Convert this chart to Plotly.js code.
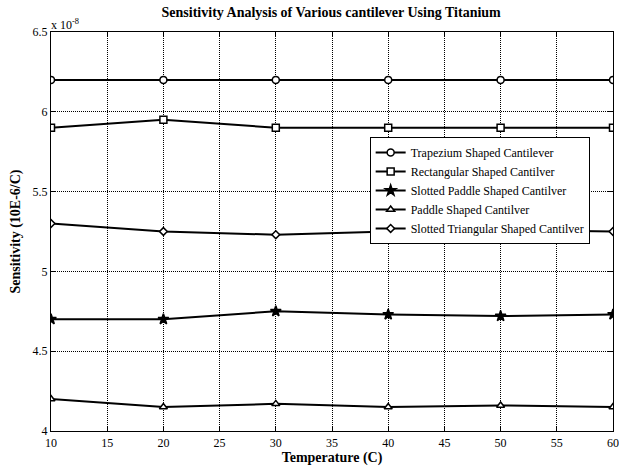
<!DOCTYPE html>
<html><head><meta charset="utf-8">
<script src="https://cdn.plot.ly/plotly-3.0.1.min.js"></script>
<style>body{margin:0;background:#fff}#c{width:619px;height:472px}</style>
</head><body><div id="c"></div>
<script>
const temperature = [10, 20, 30, 40, 50, 60];
const trapezium = [6.2, 6.2, 6.2, 6.2, 6.2, 6.2];
const rectangular = [5.9, 5.95, 5.9, 5.9, 5.9, 5.9];
const slottedPaddle = [4.7, 4.7, 4.75, 4.73, 4.72, 4.73];
const paddle = [4.2, 4.15, 4.17, 4.15, 4.16, 4.15];
const slottedTriangular = [5.3, 5.25, 5.23, 5.25, 5.26, 5.25];
const seriesNames = ["Trapezium Shaped Cantilever", "Rectangular Shaped Cantilver", "Slotted Paddle Shaped Cantilver", "Paddle Shaped Cantilver", "Slotted Triangular Shaped Cantilver"];
const xTicks = [10, 15, 20, 25, 30, 35, 40, 45, 50, 55, 60];
const yTicks = [4, 4.5, 5, 5.5, 6, 6.5];

const font = "'Liberation Serif', 'Times New Roman', serif";
function tr(y, name, sym, size, fill) {
  return {x: temperature, y: y, name: name, type: "scatter", mode: "lines+markers",
    line: {color: "#000", width: 2},
    marker: {symbol: sym, size: size, color: fill, line: {color: "#000", width: 1.5}}};
}
const data = [
  tr(trapezium, seriesNames[0], "circle", 7, "#fff"),
  tr(rectangular, seriesNames[1], "square", 7, "#fff"),
  tr(slottedPaddle, seriesNames[2], "star", 8, "#000"),
  tr(paddle, seriesNames[3], "triangle-up", 7, "#fff"),
  tr(slottedTriangular, seriesNames[4], "diamond", 6, "#fff")
];
const axBase = {showline: true, mirror: "ticks", linecolor: "#000", linewidth: 1.3,
  ticks: "inside", ticklen: 5, tickcolor: "#000", showgrid: true, gridcolor: "#000",
  griddash: "1px,1px", gridwidth: 1, zeroline: false, tickfont: {family: font, size: 12, color: "#000"}};
const layout = {
  width: 619, height: 472, paper_bgcolor: "#fff", plot_bgcolor: "#fff",
  margin: {l: 51, r: 6, t: 32, b: 41},
  font: {family: font, color: "#000"},
  title: {text: "<b>Sensitivity Analysis of Various cantilever Using Titanium</b>", font: {family: font, size: 14, color: "#000"}, x: 0.535, xanchor: "center", y: 0.985, yanchor: "top"},
  xaxis: Object.assign({}, axBase, {range: [10, 60], tickvals: xTicks, ticktext: xTicks.map(String),
    title: {text: "<b>Temperature (C)</b>", font: {family: font, size: 14, color: "#000"}, standoff: 2}}),
  yaxis: Object.assign({}, axBase, {range: [4, 6.5], tickvals: yTicks, ticktext: yTicks.map(String),
    title: {text: "<b>Sensitivity (10E-6/C)</b>", font: {family: font, size: 14, color: "#000"}, standoff: 8}}),
  showlegend: true,
  legend: {x: 0.567, y: 0.737, xanchor: "left", yanchor: "top", bgcolor: "#fff", bordercolor: "#000", borderwidth: 1,
    font: {family: font, size: 12, color: "#000"}, tracegroupgap: 0, itemwidth: 30},
  annotations: [{text: "x 10<sup>-8</sup>", xref: "paper", yref: "paper", x: 0, y: 1, xanchor: "left", yanchor: "bottom", showarrow: false, font: {family: font, size: 12, color: "#000"}, xshift: -2, yshift: -2}]
};
Plotly.newPlot("c", data, layout, {displayModeBar: false});
</script></body></html>
